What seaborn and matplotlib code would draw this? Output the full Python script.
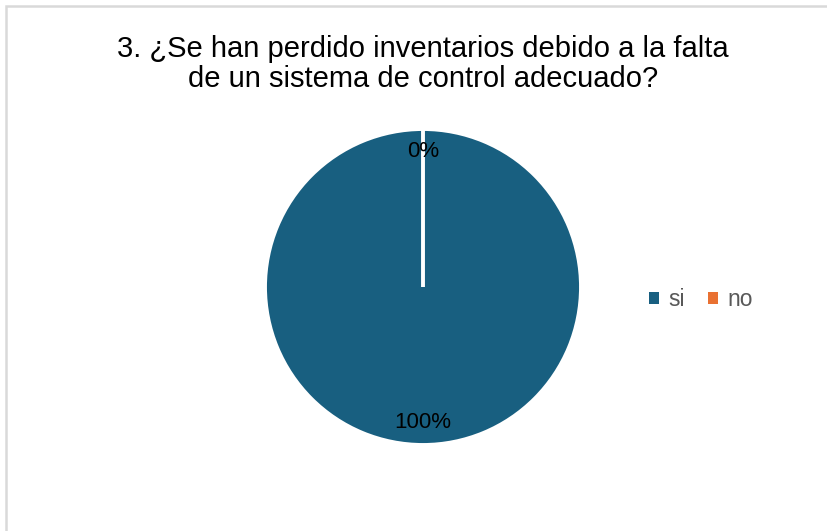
import matplotlib
matplotlib.use("Agg")
from matplotlib import pyplot as plt
from matplotlib.patches import Rectangle
import seaborn as sns

labels = ["si", "no"]
values = [100, 0]
colors = ["#185F80", "#E97132"]
title = "3. ¿Se han perdido inventarios debido a la falta\nde un sistema de control adecuado?"

sns.set_theme(style="white")
plt.rcParams["font.family"] = ["Liberation Sans", "DejaVu Sans"]

W, H = 828, 531
fig = plt.figure(figsize=(W / 100, H / 100), dpi=100)
fig.patch.set_facecolor("white")

# chart area border
fig.patches.append(Rectangle((6 / W, -0.1), 1.2, (H - 6) / H + 0.1, transform=fig.transFigure,
                             fill=False, edgecolor="#D9D9D9", linewidth=1.8))

cx, cy, r = 423, 287, 158
ax = fig.add_axes([(cx - r) / W, (H - cy - r) / H, 2 * r / W, 2 * r / H])
wedges, texts, autotexts = ax.pie(values, colors=colors, startangle=90, counterclock=False,
                                  autopct="%1.0f%%", pctdistance=0.855, radius=1,
                                  wedgeprops=dict(edgecolor="white", linewidth=2.8),
                                  textprops=dict(fontsize=16, color="#000000"))
ax.set_xlim(-1, 1)
ax.set_ylim(-1, 1)
ax.set_aspect("equal")
ax.axis("off")

fig.text(cx / W, 1 - 64 / H, title, ha="center", va="center", fontsize=21,
         color="#000000", linespacing=1.12)

handles = [Rectangle((0, 0), 1, 1, facecolor=c, edgecolor="none") for c in colors]
fig.legend(handles, labels, loc="center left", bbox_to_anchor=(628 / W, 1 - 300 / H),
           ncol=2, frameon=False, fontsize=16.5, handlelength=0.45, handleheight=0.45,
           handletextpad=0.4, columnspacing=1.0, labelcolor="#595959")

fig.savefig("out.png", dpi=100)
